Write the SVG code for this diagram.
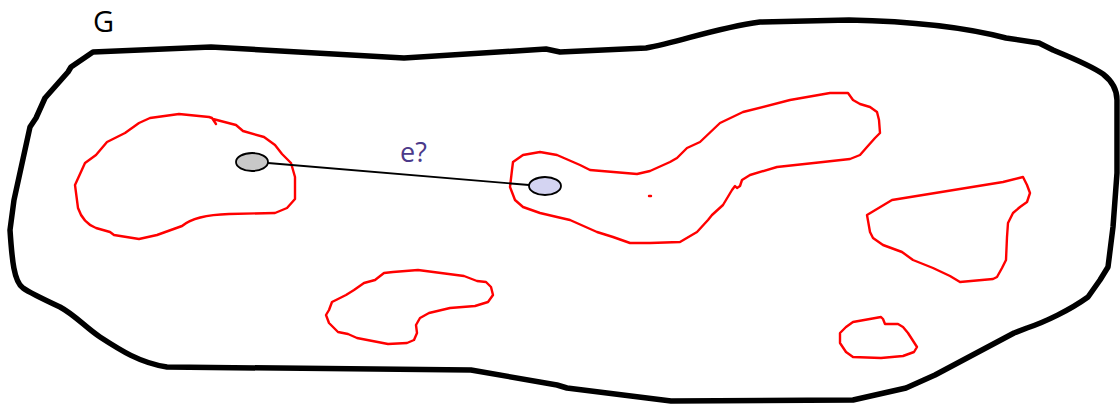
<svg xmlns="http://www.w3.org/2000/svg" width="1120" height="405" viewBox="0 0 1120 405">
<style>
.outer{fill:none;stroke:#000;stroke-width:5.5;stroke-linejoin:round;stroke-linecap:round}
.blob{fill:none;stroke:#ff0000;stroke-width:2.4;stroke-linejoin:round;stroke-linecap:round}
.node{stroke:#000;stroke-width:1.8}
.edge{stroke:#000;stroke-width:1.8;fill:none}
.lbl{font-family:"Open Sans","DejaVu Sans",sans-serif}
</style>
<rect width="1120" height="405" fill="#fff"/>
<g id="graph-G">
<path class="outer" d="M93,52 L211,47 L404,58 L546,49 L560,52 L646,48 C680,42 715,28 760,22 L849,20 C900,21 960,26 1006,38 L1039,43 L1053,50 C1070,57 1090,65 1103,74 Q1117,85 1117,100 L1117,173 L1113,227 L1108,267 L1100,280 L1088,297 C1070,310 1045,322 1027,328 L1014,333 L935,375 L906,388 L853,400 L671,401 L567,388 L557,385 L471,370 L167,367 C140,363 120,350 100,337 C85,327 75,315 60,307 C45,300 30,293 23,288 C14,282 12,260 10,230 L14,200 L30,127 L36,118 L45,98 L68,72 L71,67 Z"/>
<text class="lbl" x="93" y="32" font-size="29" fill="#000">G</text>
</g>
<g id="region-1">
<path class="blob" d="M75,185 L85,163 L96,155 L107,142 L125,133 L139,123 L150,118 L179,114 L209,117 L212,118 L216,124 L213,119 L236,125 L243,131 L264,137 L275,145 L282,154 L291,163 L295,177 L295,199 L287,208 L275,213 L229,214 Q195,215 182,226 L157,235 L139,239 L114,235 L110,232 L96,228 Q83,223 78,208 Z"/>
</g>
<g id="region-2">
<path class="blob" d="M513,162 L523,155 L540,152 L557,155 L580,165 L590,170 L637,174 L650,171 L670,162 L677,158 L687,148 L700,142 L720,123 L743,112 L790,100 L830,93 L848,93 L853,100 L860,104 L870,107 L877,112 L879,120 L880,133 L875,138 L867,147 L860,155 L850,159 L823,162 L777,167 L750,175 L742,180 L740,186 L737,188 L735,186 L732,190 L723,205 L712,215 L708,220 L697,232 L680,242 L650,243 L630,243 L613,237 L597,232 L570,220 L557,217 L540,213 L523,207 L515,200 L510,187 L512,170 Z"/>
<path class="blob" d="M649,196 L651,196"/>
</g>
<g id="region-3">
<path class="blob" d="M867,215 L892,200 L1003,182 L1023,177 L1027,185 L1030,193 L1027,202 L1020,207 L1013,213 L1008,223 L1007,237 L1006,260 L1002,268 L997,277 L993,279 L960,282 L950,276 L933,268 L913,260 L902,252 L883,245 L873,238 L870,232 Z"/>
</g>
<g id="region-4">
<path class="blob" d="M329,310 L332,302 L346,295 L354,290 L364,283 L375,280 L384,273 L393,272 L418,270 L464,276 L477,281 L486,282 L491,287 L493,295 L488,302 L475,306 L450,308 L429,313 L420,318 L416,325 L417,333 L414,340 L407,343 L388,344 L357,338 L348,334 L338,332 L329,323 L326,315 Z"/>
</g>
<g id="region-5">
<path class="blob" d="M853,322 L881,317 L883,319 L885,324 L898,324 L903,327 L908,333 L917,347 L914,352 L903,356 L881,358 L853,357 L846,352 L840,343 L840,333 L846,327 Z"/>
</g>
<g id="connectors">
<line class="edge" x1="268" y1="163" x2="529" y2="185"/>
<text class="lbl" x="400" y="162" font-size="27" fill="#4b3a8a">e?</text>
</g>
<g id="node-u">
<ellipse class="node" cx="252" cy="162" rx="16" ry="9" fill="#c8c8c8"/>
</g>
<g id="node-v">
<ellipse class="node" cx="545" cy="186" rx="16" ry="9" fill="#d4d4f2"/>
</g>
</svg>
